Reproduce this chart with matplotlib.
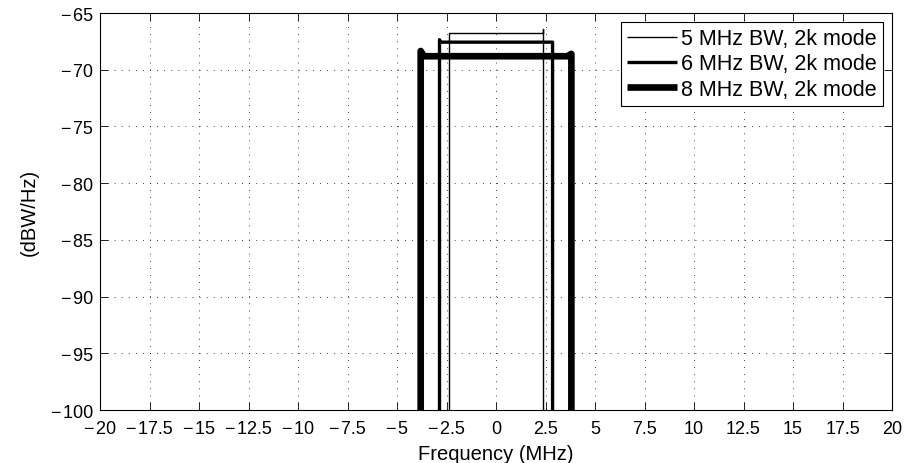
import numpy as np
import matplotlib.pyplot as plt

plt.rcParams['font.family'] = ['Liberation Sans', 'DejaVu Sans']
plt.rcParams['font.size'] = 13

# power spectral density of the 2k-mode DVB-T signal, one trace per channel bandwidth
freq_5 = [-2.38, -2.38, -2.38, 2.38, 2.38, 2.38]
psd_5 = [-101.0, -66.78, -66.78, -66.78, -66.45, -101.0]

freq_6 = [-2.855, -2.855, -2.80, 2.80, 2.855, 2.855]
psd_6 = [-101.0, -67.35, -67.57, -67.57, -67.57, -101.0]

freq_8 = [-3.805, -3.805, -3.65, 3.60, 3.805, 3.805]
psd_8 = [-101.0, -68.35, -68.81, -68.81, -68.6, -101.0]

labels = ['5 MHz BW, 2k mode', '6 MHz BW, 2k mode', '8 MHz BW, 2k mode']
widths = [1.0, 2.4, 4.8]

xticks = np.arange(-20, 20.01, 2.5)
yticks = np.arange(-100, -64, 5)


def fmt(v):
    s = '%g' % v
    return s.replace('-', '\u2212\u200a')


fig = plt.figure(figsize=(9.06, 4.64), dpi=100)
ax = fig.add_axes([0.1104, 0.1142, 0.8742, 0.8556])

series = [(freq_5, psd_5), (freq_6, psd_6), (freq_8, psd_8)]
for (f, p), lab, lw in zip(series, labels, widths):
    ax.plot(f, p, color='k', linewidth=lw, label=lab,
            solid_joinstyle='round', solid_capstyle='butt')

ax.set_xlim(-20, 20)
ax.set_ylim(-100, -65)
ax.set_xticks(xticks)
ax.set_xticklabels([fmt(v) for v in xticks])
ax.set_yticks(yticks)
ax.set_yticklabels([fmt(v) for v in yticks])

ax.grid(True, color='k', linestyle=(0, (1, 7.5)), linewidth=0.6)
ax.tick_params(direction='in', length=6, width=0.6, top=True, right=True)
ax.tick_params(axis='x', pad=7.5)
ax.tick_params(axis='y', pad=5)
for sp in ax.spines.values():
    sp.set_linewidth(0.8)

ax.set_xlabel('Frequency (MHz)', fontsize=14.5, labelpad=4.5)
ax.set_ylabel('(dBW/Hz)', fontsize=14.5, labelpad=9)

leg = ax.legend(loc='upper right', fancybox=False, edgecolor='k', framealpha=1,
                fontsize=15.5, handlelength=2.3, borderaxespad=0.4,
                labelspacing=0.2, handletextpad=0.2, borderpad=0.3)
leg.get_frame().set_linewidth(0.8)

plt.savefig('out.png', dpi=100)
plt.close()
